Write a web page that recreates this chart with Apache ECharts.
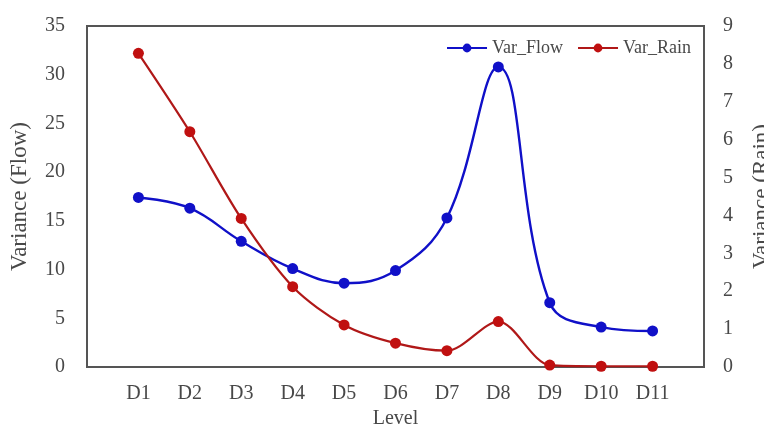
<!DOCTYPE html>
<html><head><meta charset="utf-8">
<script src="https://cdn.jsdelivr.net/npm/echarts@6/dist/echarts.min.js"></script>
<style>html,body{margin:0;padding:0;background:#fff}#c{width:764px;height:425px}</style>
</head><body><div id="c"></div>
<script>
const categories = ['D1','D2','D3','D4','D5','D6','D7','D8','D9','D10','D11'];
const varFlow = [17.4, 16.3, 12.9, 10.1, 8.6, 9.9, 15.3, 30.8, 6.6, 4.1, 3.7];
const varRain = [8.28, 6.21, 3.92, 2.12, 1.11, 0.63, 0.43, 1.2, 0.05, 0.02, 0.02];
const flowTicks = [0,5,10,15,20,25,30,35];
const rainTicks = [0,1,2,3,4,5,6,7,8,9];

const font = 'Liberation Serif';
const txt = '#484848';
const chart = echarts.init(document.getElementById('c'));
chart.setOption({
  backgroundColor: '#fff',
  textStyle: {fontFamily: font},
  grid: {left: 87, right: 60, top: 26, bottom: 58, show: true, borderColor: '#555', borderWidth: 2,
    outerBoundsMode: 'none', containLabel: false},
  legend: {
    right: 68, top: 34, itemGap: 14, itemWidth: 40, itemHeight: 11,
    textStyle: {fontFamily: font, fontSize: 18, color: txt},
    data: ['Var_Flow', 'Var_Rain']
  },
  xAxis: {
    type: 'value', min: 0, max: 12, interval: 1,
    name: 'Level', nameLocation: 'middle', nameGap: 37,
    nameTextStyle: {fontFamily: font, fontSize: 20, color: txt},
    axisLine: {show: true, lineStyle: {color: '#555', width: 2}},
    axisTick: {show: false}, splitLine: {show: false},
    axisLabel: {fontFamily: font, fontSize: 20, color: txt, margin: 17,
      formatter: v => categories[v - 1] || ''}
  },
  yAxis: [{
    type: 'value', min: flowTicks[0], max: flowTicks[flowTicks.length-1], interval: 5,
    name: 'Variance (Flow)', nameLocation: 'middle', nameGap: 56,
    nameTextStyle: {fontFamily: font, fontSize: 23, color: txt},
    axisLine: {show: true, lineStyle: {color: '#555', width: 2}},
    axisTick: {show: false}, splitLine: {show: false},
    axisLabel: {fontFamily: font, fontSize: 20, color: txt, margin: 22}
  }, {
    type: 'value', min: rainTicks[0], max: rainTicks[rainTicks.length-1], interval: 1,
    name: 'Variance (Rain)', nameLocation: 'middle', nameGap: 46, nameRotate: 90,
    nameTextStyle: {fontFamily: font, fontSize: 23, color: txt},
    axisLine: {show: true, lineStyle: {color: '#555', width: 2}},
    axisTick: {show: false}, splitLine: {show: false},
    axisLabel: {fontFamily: font, fontSize: 20, color: txt, margin: 19}
  }],
  series: [{
    name: 'Var_Flow', type: 'line', yAxisIndex: 0, smooth: 0.4,
    symbol: 'circle', symbolSize: 11,
    itemStyle: {color: '#1010c8'}, lineStyle: {color: '#1010c8', width: 2.4},
    data: categories.map((c, i) => [i + 1, varFlow[i]])
  }, {
    name: 'Var_Rain', type: 'line', yAxisIndex: 1, smooth: 0.3,
    symbol: 'circle', symbolSize: 11,
    itemStyle: {color: '#c01010'}, lineStyle: {color: '#b01818', width: 2.2},
    data: categories.map((c, i) => [i + 1, varRain[i]])
  }]
});
</script></body></html>
